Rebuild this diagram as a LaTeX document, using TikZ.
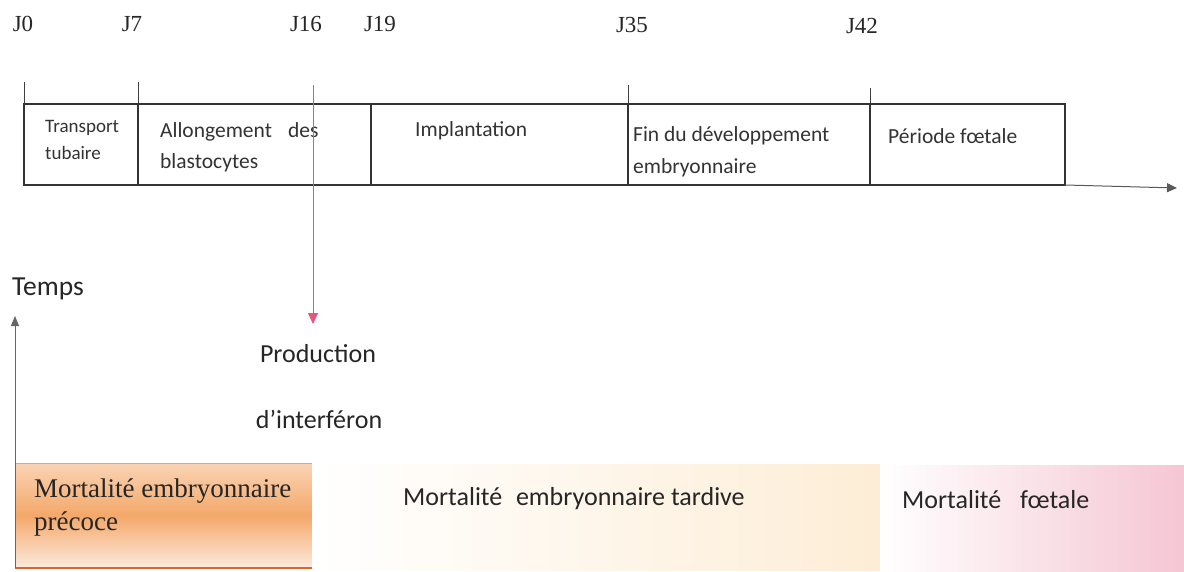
\documentclass[tikz,border=0pt]{standalone}
\usepackage{fontspec}
\setmainfont{Carlito}
\newfontfamily\serifJ{Liberation Serif}
\usetikzlibrary{arrows.meta}
\definecolor{pinkarrow}{HTML}{E8567E}
\definecolor{orangeA}{HTML}{F9D4B4}
\definecolor{orangeB}{HTML}{F4A86A}
\definecolor{orangeC}{HTML}{FCEADC}
\definecolor{orangeEdge}{HTML}{D9652E}
\definecolor{creamR}{HTML}{FDEDD6}
\definecolor{pinkR}{HTML}{F5C6D3}
\definecolor{axisgray}{HTML}{666666}
\tikzset{
  jlab/.style={anchor=base, font=\serifJ\fontsize{23}{25}\selectfont, text=black!85},
  cell/.style={draw=black!80, line width=1.1pt},
  celltext/.style={anchor=base west, inner sep=0pt, font=\fontsize{21.5}{23}\selectfont, text=black!80},
  smalltext/.style={anchor=base west, inner sep=0pt, font=\fontsize{19}{21}\selectfont, text=black!80},
  bigtext/.style={anchor=base west, inner sep=0pt, font=\fontsize{26}{28}\selectfont, text=black!85},
  centertext/.style={anchor=base, inner sep=0pt, font=\fontsize{26}{28}\selectfont, text=black!85},
  serifbig/.style={anchor=base west, inner sep=0pt, font=\serifJ\fontsize{27}{29}\selectfont, text=black!85},
  tick/.style={draw=black!75, line width=0.8pt},
}
\begin{document}
\begin{tikzpicture}[x=1pt,y=-1pt]
\useasboundingbox (0,0) rectangle (1184,572);
\fill[white] (0,0) rectangle (1184,572);

% day labels
\node[jlab] (j0)  at (23,32)  {J0};
\node[jlab] (j7)  at (132,32) {J7};
\node[jlab] (j16) at (306,32) {J16};
\node[jlab] (j19) at (380,32) {J19};
\node[jlab] (j35) at (632,33) {J35};
\node[jlab] (j42) at (862,34) {J42};

% ticks
\draw[tick] (24,82) -- (24,104);
\draw[tick] (138,82) -- (138,104);
\draw[tick] (628,85) -- (628,105);
\draw[tick] (870,88) -- (870,106);

% cells
\draw[cell] (24,104) rectangle (138,185);
\draw[cell] (138,104) rectangle (371,185);
\draw[cell] (371,104) rectangle (628,185);
\draw[cell] (628,104) rectangle (870,185);
\draw[cell] (870,104) rectangle (1065,185);

% time axis
\coordinate (axS) at (1065,185);
\coordinate (axE) at (1177,188);
\draw[draw=black!65, line width=1pt, -{Triangle[length=10pt,width=9pt]}] (axS) -- (axE);

% cell texts
\node[smalltext] (t1a) at (45,133) {Transport};
\node[smalltext] (t1b) at (45,160) {tubaire};
\node[celltext] (t2a) at (160,138) {Allongement\hspace{0.75em}des};
\node[celltext] (t2b) at (160,169) {blastocytes};
\node[celltext] (t3)  at (415,137) {Implantation};
\node[celltext] (t4a) at (633,142) {Fin du développement};
\node[celltext] (t4b) at (633,174) {embryonnaire};
\node[celltext] (t5)  at (888,144) {Période fœtale};

% bottom band
\shade[top color=orangeA, bottom color=orangeC, middle color=orangeB] (15,463) rectangle (312,568);
\draw[orangeEdge!60, line width=0.6pt] (15,463) -- (312,463);
\draw[orangeEdge, line width=2pt] (15,568) -- (312,568);
\shade[left color=white, right color=creamR] (312,464) rectangle (880,570);
\shade[left color=white, right color=pinkR] (880,465) rectangle (1184,572);

% interferon arrow
\coordinate (ifS) at (313,85);
\coordinate (ifE) at (313,324);
\draw[pinkarrow, line width=1pt, -{Triangle[length=11pt,width=10pt]}] (ifS) -- (ifE);

\node[centertext] (prod) at (318,362) {Production};
\node[centertext] (interf) at (319,428) {d’interféron};

% time arrow (vertical)
\node[bigtext] (temps) at (12,296) {\fontsize{27.5}{29}\selectfont Temps};
\coordinate (tpS) at (15,568);
\coordinate (tpE) at (15,316);
\draw[axisgray, line width=1pt, -{Triangle[length=10pt,width=8pt]}] (tpS) -- (tpE);

% mortality labels
\node[serifbig] (m1a) at (34,497) {Mortalité embryonnaire};
\node[serifbig] (m1b) at (34,530) {précoce};
\node[bigtext] (m2) at (403,505) {Mortalité\hspace{0.3em} embryonnaire tardive};
\node[bigtext] (m3) at (902,508) {Mortalité\hspace{0.5em} fœtale};
\end{tikzpicture}
\end{document}
